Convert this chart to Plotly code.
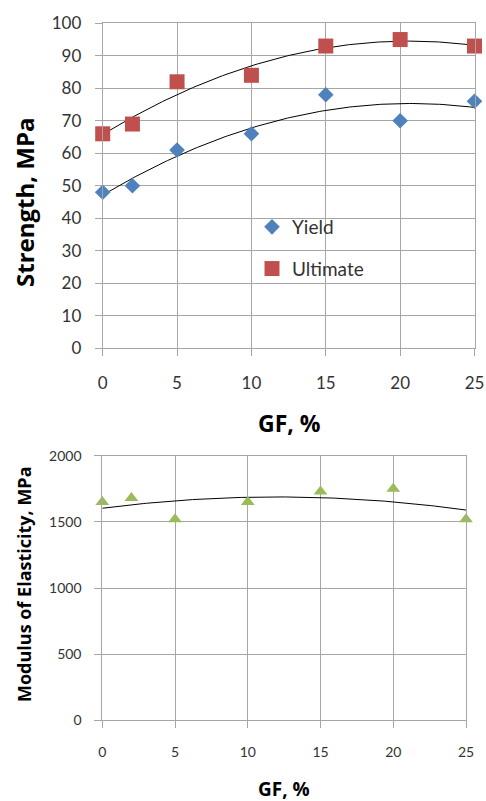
import numpy as np
import plotly.graph_objects as go

# Glass-fibre content (%) and measured properties
gf = [0, 2, 5, 10, 15, 20, 25]
yield_mpa = [48, 50, 61, 66, 78, 70, 76]
ultimate_mpa = [66, 69, 82, 84, 93, 95, 93]
modulus_mpa = [1650, 1680, 1520, 1650, 1730, 1750, 1520]

x_ticks = [0, 5, 10, 15, 20, 25]

W, H = 486, 801
FONT = "Lato"
TITLE_FONT = "Open Sans"
GRID = "#a6a6a6"
TICK_TXT = "#333333"

BLUE = "#4F81BD"
RED = "#C0504D"
GREEN = "#9BBB59"


def fx(p):
    return p / W


def fy(p):
    return 1 - p / H


def trend(x, y):
    """Second-order polynomial trendline."""
    c = np.polyfit(x, y, 2)
    xs = np.linspace(min(x), max(x), 150)
    return xs, np.polyval(c, xs)


fig = go.Figure()

# --- Strength chart ---
for ys in (yield_mpa, ultimate_mpa):
    tx, ty = trend(gf, ys)
    fig.add_trace(go.Scatter(x=tx, y=ty, mode="lines", line=dict(color="black", width=1),
                             showlegend=False, hoverinfo="skip", xaxis="x", yaxis="y"))

fig.add_trace(go.Scatter(x=gf, y=yield_mpa, mode="markers", name="Yield",
                         marker=dict(symbol="diamond", size=12, color=BLUE),
                         cliponaxis=False, legendgroup="a", xaxis="x", yaxis="y"))
fig.add_trace(go.Scatter(x=gf, y=ultimate_mpa, mode="markers", name="Ultimate",
                         marker=dict(symbol="square", size=15, color=RED),
                         cliponaxis=False, legendgroup="b", xaxis="x", yaxis="y"))

# --- Modulus chart ---
tx, ty = trend(gf, modulus_mpa)
fig.add_trace(go.Scatter(x=tx, y=ty, mode="lines", line=dict(color="black", width=1),
                         showlegend=False, hoverinfo="skip", xaxis="x2", yaxis="y2"))
fig.add_trace(go.Scatter(x=gf, y=modulus_mpa, mode="markers", name="Modulus",
                         marker=dict(symbol="triangle-up", size=12, color=GREEN),
                         cliponaxis=False, showlegend=False, xaxis="x2", yaxis="y2"))

common = dict(showgrid=True, gridcolor=GRID, gridwidth=1, showline=True, linecolor=GRID,
              linewidth=1, mirror=True, zeroline=False, ticks="outside", ticklen=7,
              tickcolor=GRID, tickwidth=1, automargin=False)

fig.update_layout(
    width=W, height=H, autosize=False,
    margin=dict(l=0, r=0, t=0, b=0),
    paper_bgcolor="white", plot_bgcolor="white",
    font=dict(family=FONT, color=TICK_TXT),
    xaxis=dict(domain=[fx(102.7), fx(474.5)], range=[0, 25], tickvals=x_ticks,
               anchor="y", tickfont=dict(size=17), ticklabelstandoff=12, **common),
    yaxis=dict(domain=[fy(348.3), fy(23.3)], range=[0, 100], dtick=10,
               anchor="x", tickfont=dict(size=17), ticklabelstandoff=10, **common),
    xaxis2=dict(domain=[fx(102.3), fx(466)], range=[0, 25], tickvals=x_ticks,
                anchor="y2", tickfont=dict(size=14), ticklabelstandoff=12, **common),
    yaxis2=dict(domain=[fy(720.3), fy(455.7)], range=[0, 2000], dtick=500,
                anchor="x2", tickfont=dict(size=14), ticklabelstandoff=10, **common),
    legend=dict(x=fx(252), y=fy(208), xanchor="left", yanchor="top",
                bgcolor="rgba(0,0,0,0)", font=dict(size=19, color=TICK_TXT),
                tracegroupgap=14, traceorder="grouped"),
    showlegend=True,
)


def title(text, x, y, size, angle=0):
    fig.add_annotation(text=f"<b>{text}</b>", textangle=angle, x=fx(x), y=fy(y),
                       xref="paper", yref="paper", xanchor="center", yanchor="middle",
                       showarrow=False,
                       font=dict(family=TITLE_FONT, size=size, color="black"))


title("Strength, MPa", 25, 202, 24, -90)
title("GF, %", 289, 423, 23)
title("Modulus of Elasticity, MPa", 24, 584, 18, -90)
title("GF, %", 284, 789, 19)

fig.write_html("out.html")
